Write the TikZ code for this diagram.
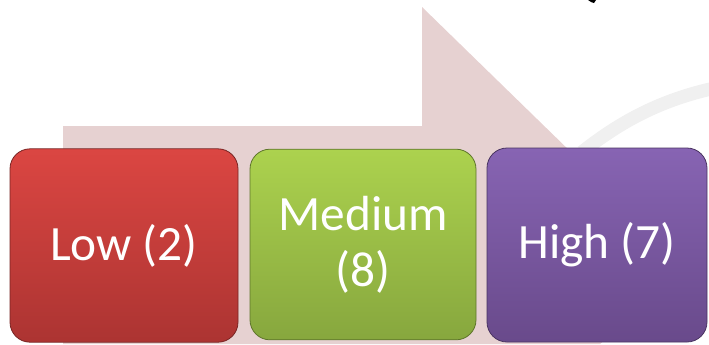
\documentclass[tikz,border=0pt]{standalone}
\usepackage{fontspec}
\setmainfont{Carlito}

\definecolor{arrowpink}{RGB}{230,209,209}
\definecolor{lowtop}{RGB}{219,70,66}
\definecolor{lowbot}{RGB}{172,52,50}
\definecolor{medtop}{RGB}{172,210,78}
\definecolor{medbot}{RGB}{135,167,62}
\definecolor{hightop}{RGB}{135,100,179}
\definecolor{highbot}{RGB}{105,74,139}

\begin{document}
\begin{tikzpicture}[x=0.75pt, y=-0.75pt,
		level/.style={
			draw=#1bot!70!black,
			line width=0.6pt,
			rounded corners=15pt,
			top color=#1top,
			bottom color=#1bot,
			text=white,
			align=center,
			font=\fontsize{37}{42}\selectfont,
			inner sep=0pt}]
		
		\useasboundingbox (0,0) rectangle (709,344);
		\clip (0,0) rectangle (709,344);
		
		% big arrow behind the boxes
		\fill[arrowpink] (63,126) -- (422,126) -- (422,7) -- (690,268)
		-- (600,344) -- (63,344) -- cycle;
		
		% faint swoosh on the right
		\draw[line width=10pt, black!6] (582,152) .. controls (620,122) and (660,100) .. (715,88);
		
		% small dark mark at the top
		\fill (588,0) -- (596,0) -- (594,3) -- (591,2) -- cycle;
		
		% Low
		\node [level=low,
		minimum width=171pt,
		minimum height=145pt] (low) at (124,245.5) {Low (2)};
		
		% Medium
		\node [level=med,
		minimum width=169.5pt,
		minimum height=143pt] (medium) at (363,244.5) {Medium\\(8)};
		
		% High
		\node [level=high,
		minimum width=165pt,
		minimum height=145.5pt] (high) at (597,245) {High (7)};
		
	\end{tikzpicture}
\end{document}
